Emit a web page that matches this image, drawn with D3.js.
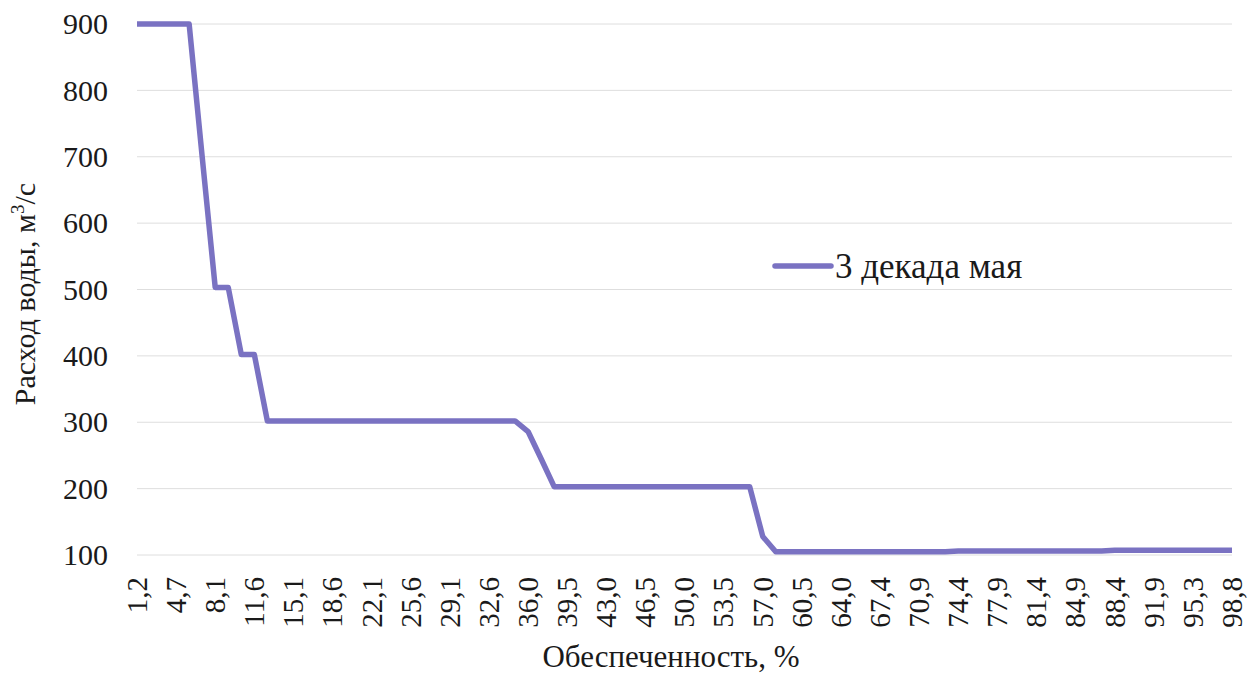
<!DOCTYPE html>
<html>
<head>
<meta charset="utf-8">
<script src="https://cdn.jsdelivr.net/npm/d3@7"></script>
<style>
  body { margin: 0; background: #fff; }
  #chart text { font-family: "Liberation Serif" !important; }
</style>
</head>
<body>
<div id="chart"></div>
<script>
// probability of exceedance, % (86 ranks -> 85 values)
var categories = [
  "1,2","2,3","3,5","4,7","5,8","7,0","8,1","9,3","10,5","11,6",
  "12,8","14,0","15,1","16,3","17,4","18,6","19,8","20,9","22,1","23,3",
  "24,4","25,6","26,7","27,9","29,1","30,2","31,4","32,6","33,7","34,9",
  "36,0","37,2","38,4","39,5","40,7","41,9","43,0","44,2","45,3","46,5",
  "47,7","48,8","50,0","51,2","52,3","53,5","54,7","55,8","57,0","58,1",
  "59,3","60,5","61,6","62,8","64,0","65,1","66,3","67,4","68,6","69,8",
  "70,9","72,1","73,3","74,4","75,6","76,7","77,9","79,1","80,2","81,4",
  "82,6","83,7","84,9","86,0","87,2","88,4","89,5","90,7","91,9","93,0",
  "94,2","95,3","96,5","97,7","98,8"
]

// water discharge, m3/s
var flow = [
  900, 900, 900, 900, 900, 700, 503, 503, 402, 402,
  302, 302, 302, 302, 302, 302, 302, 302, 302, 302,
  302, 302, 302, 302, 302, 302, 302, 302, 302, 302,
  286, 245, 203, 203, 203, 203, 203, 203, 203, 203,
  203, 203, 203, 203, 203, 203, 203, 203, 128, 105,
  105, 105, 105, 105, 105, 105, 105, 105, 105, 105,
  105, 105, 105, 106, 106, 106, 106, 106, 106, 106,
  106, 106, 106, 106, 106, 107, 107, 107, 107, 107,
  107, 107, 107, 107, 107
]

var yTicks = [100, 200, 300, 400, 500, 600, 700, 800, 900]
var seriesName = "3 декада мая"

var width = 1258, height = 674
var margin = { left: 137, right: 26, top: 24, bottom: 119 }
var lineColor = "#7a72c2"
var fontName = "Liberation Serif"
var ink = "#1a1a1a"

var svg = d3.select("#chart").append("svg")
  .attr("width", width)
  .attr("height", height)
  .attr("font-family", fontName)

var x = d3.scalePoint()
  .domain(categories)
  .range([margin.left, width - margin.right])

var y = d3.scaleLinear()
  .domain([100, 900])
  .range([height - margin.bottom, margin.top])

// gridlines
svg.append("g")
  .selectAll("line")
  .data(yTicks)
  .join("line")
  .attr("x1", margin.left)
  .attr("x2", width - margin.right)
  .attr("y1", d => y(d))
  .attr("y2", d => y(d))
  .attr("stroke", "#dedede")
  .attr("stroke-width", 1)

// y axis (built by hand so no sans-serif default leaks in)
svg.append("g")
  .selectAll("text")
  .data(yTicks)
  .join("text")
  .attr("x", margin.left - 29)
  .attr("y", d => y(d))
  .attr("dy", "0.34em")
  .attr("text-anchor", "end")
  .attr("font-family", fontName)
  .attr("font-size", 30)
  .attr("fill", ink)
  .text(d => d)

// x axis labels, every third category
svg.append("g")
  .selectAll("text")
  .data(categories.filter((d, i) => i % 3 == 0))
  .join("text")
  .attr("transform", d => `translate(${x(d)},${height - margin.bottom + 22}) rotate(-90)`)
  .attr("dy", "0.34em")
  .attr("text-anchor", "end")
  .attr("font-family", fontName)
  .attr("font-size", 29)
  .attr("fill", ink)
  .text(d => d)

// the line
var line = d3.line()
  .x((d, i) => x(categories[i]))
  .y(d => y(d))

svg.append("path")
  .datum(flow)
  .attr("d", line)
  .attr("fill", "none")
  .attr("stroke", lineColor)
  .attr("stroke-width", 5.5)
  .attr("stroke-linejoin", "round")

// axis titles
svg.append("text")
  .attr("x", 671)
  .attr("y", 667)
  .attr("text-anchor", "middle")
  .attr("fill", ink)
  .attr("font-family", fontName)
  .attr("font-size", 31)
  .text("Обеспеченность, %")

var yTitle = svg.append("text")
  .attr("transform", "translate(35,294) rotate(-90)")
  .attr("text-anchor", "middle")
  .attr("fill", ink)
  .attr("font-family", fontName)
  .attr("font-size", 30)
yTitle.append("tspan").text("Расход воды, м")
yTitle.append("tspan").attr("dy", -11).attr("font-size", 19).text("3")
yTitle.append("tspan").attr("dy", 11).text("/с")

// legend
var legend = svg.append("g").attr("transform", "translate(775,266)")
legend.append("line")
  .attr("x1", 0).attr("x2", 56)
  .attr("y1", 0).attr("y2", 0)
  .attr("stroke", lineColor)
  .attr("stroke-width", 5.5)
  .attr("stroke-linecap", "round")
legend.append("text")
  .attr("x", 60)
  .attr("y", 12)
  .attr("fill", ink)
  .attr("font-family", fontName)
  .attr("font-size", 35)
  .text(seriesName)
</script>
</body>
</html>
